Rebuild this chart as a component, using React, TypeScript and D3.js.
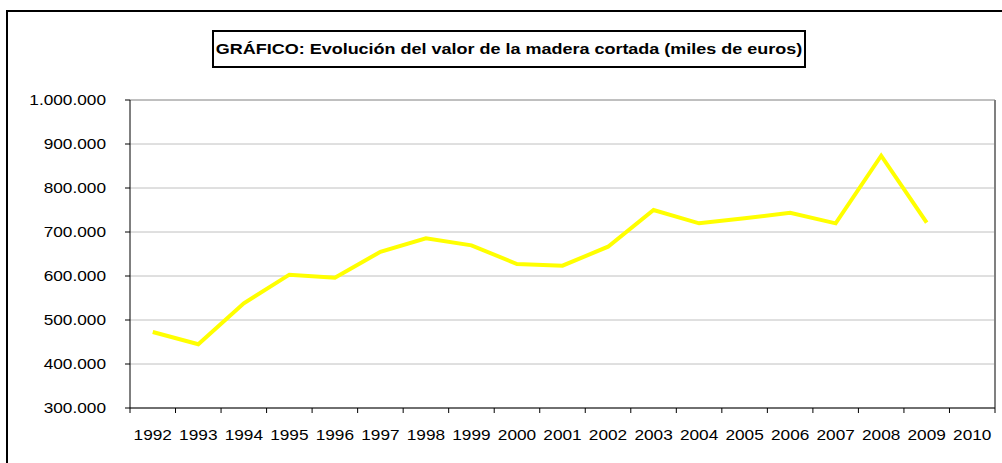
import React from "react";
import * as d3 from "d3";

const years = ["1992","1993","1994","1995","1996","1997","1998","1999","2000","2001","2002","2003","2004","2005","2006","2007","2008","2009","2010"];
const values: (number | null)[] = [472700, 445000, 538000, 603000, 596000, 655000, 685600, 669700, 627300, 623400, 666600, 750000, 719700, 731000, 743900, 719700, 873400, 721200, null];
const yTicks = [300000, 400000, 500000, 600000, 700000, 800000, 900000, 1000000];
const title = "GRÁFICO: Evolución del valor de la madera cortada (miles de euros)";

const W = 1002, H = 463;
const left = 130, right = 995, top = 100, bottom = 408;

const fmt = (v: number) => v.toString().replace(/\B(?=(\d{3})+(?!\d))/g, ".");

export default function App() {
  const x = d3.scaleBand<string>().domain(years).range([left, right]).padding(0);
  const y = d3.scaleLinear().domain([300000, 1000000]).range([bottom, top]);
  const pts = years.map((yr, i) => ({ yr, v: values[i] })).filter(d => d.v != null) as { yr: string; v: number }[];
  const line = d3.line<{ yr: string; v: number }>()
    .x(d => (x(d.yr) as number) + x.bandwidth() / 2)
    .y(d => y(d.v));
  const font = "'Liberation Sans', Arial, sans-serif";
  const tickXs = years.map(yr => x(yr) as number).concat([right]);
  const sx = 1.15;
  return (
    <svg width={W} height={H} style={{ position: "absolute", left: 0, top: 0, background: "#fff" }} fontFamily={font}>
      <rect x={7} y={11} width={W + 10} height={H + 10} fill="#fff" stroke="#000" strokeWidth={2} />
      {yTicks.map(t => (
        <line key={"g" + t} x1={left} x2={right} y1={y(t)} y2={y(t)} stroke={t === 1000000 ? "#808080" : "#c0c0c0"} strokeWidth={1} />
      ))}
      <line x1={right} x2={right} y1={top} y2={bottom} stroke="#808080" strokeWidth={2} />
      <line x1={left} x2={left} y1={top} y2={bottom} stroke="#000" strokeWidth={1} />
      <line x1={left} x2={right} y1={bottom} y2={bottom} stroke="#000" strokeWidth={1} />
      {yTicks.map(t => (
        <g key={"t" + t}>
          <line x1={left - 5} x2={left} y1={y(t)} y2={y(t)} stroke="#000" />
          <text transform={`translate(106,${y(t)}) scale(${sx},1)`} dy="0.36em" textAnchor="end" fontSize={15} fill="#000">{fmt(t)}</text>
        </g>
      ))}
      {tickXs.map((tx, i) => (
        <line key={"xt" + i} x1={tx} x2={tx} y1={bottom} y2={bottom + 5} stroke="#000" />
      ))}
      {years.map(yr => (
        <text key={yr} transform={`translate(${(x(yr) as number) + x.bandwidth() / 2},435) scale(${sx},1)`} dy="0.36em" textAnchor="middle" fontSize={15} fill="#000">{yr}</text>
      ))}
      <path d={line(pts) || ""} fill="none" stroke="#ffff00" strokeWidth={4} strokeLinejoin="miter" />
      <rect x={213} y={31} width={592} height={36} fill="#fff" stroke="#000" strokeWidth={2} />
      <text transform={`translate(509,49) scale(1.2,1)`} dy="0.36em" textAnchor="middle" fontSize={15} fontWeight="bold" fill="#000">{title}</text>
    </svg>
  );
}
